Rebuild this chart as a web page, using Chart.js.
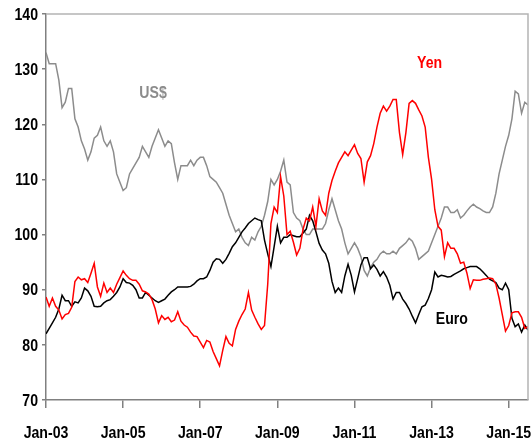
<!DOCTYPE html>
<html>
<head>
<meta charset="utf-8">
<style>
  html, body { margin: 0; padding: 0; background: #fff; }
  #wrap { width: 531px; height: 444px; position: relative; }
</style>
<script src="https://cdn.jsdelivr.net/npm/chart.js@4"></script>
</head>
<body>
<div id="wrap"><canvas id="fxChart" width="531" height="444"></canvas></div>
<script>
// monthly readings, Jan-03 .. Jul-15
const tickLabels = ['Jan-03', 'Jan-05', 'Jan-07', 'Jan-09', 'Jan-11', 'Jan-13', 'Jan-15'];

const usd = [
  133, 131, 131, 131, 128, 123, 124, 126.5, 126.5, 121,
  119.5, 117, 115.5, 113.5, 115, 117.5, 118, 119.5, 117, 116,
  117, 115, 111, 109.5, 108, 108.5, 111, 112, 113, 114,
  116, 115, 114, 116, 117.5, 119, 117.5, 116, 117, 116.5,
  113, 110, 112.5, 112.5, 112.5, 113.5, 112.5, 113.5, 114, 114,
  112.5, 110.5, 110, 109.5, 108.5, 107.5, 105.5, 103.5, 102, 100.5,
  101, 99.5, 98.5, 98, 99.5, 99, 100.5, 101.5, 103.5, 106,
  110, 109, 110, 111.5, 113.5, 109.5, 109, 104, 103, 102.5,
  101, 100, 100, 101, 101, 101, 101, 102, 104.5, 106.5,
  104.5, 102.5, 101, 98.5, 96.5, 97.5, 98.5, 97.5, 96, 93.5,
  92.5, 94, 95, 95.5, 96.5, 97, 96.5, 96.5, 97, 96.5,
  97.5, 98, 98.5, 99.3, 98.8, 97.5, 95.5, 96, 96.5, 97,
  98.5, 100, 101.5, 103, 105, 105, 104, 104, 104.5, 103,
  103.5, 104.3, 105, 105.5, 105, 104.7, 104.3, 104, 104, 105,
  107.5, 111, 113.5, 116, 118, 121, 126, 125.5, 122, 124,
  123.5
];

const yen = [
  88.7, 87, 88.5, 87, 86.3, 84.7, 85.5, 85.7, 86.8, 91.5,
  92.3, 91.8, 92, 91.3, 93, 94.8, 90.5, 88.8, 91.2, 89.5,
  90.3, 89.5, 91, 92.2, 93.4, 92.6, 92, 91.7, 91.7, 91,
  89.8, 89.6, 89.2, 88.2, 86.5, 84, 85.3, 84.6, 85, 84.2,
  84.5, 86, 84.3, 83.6, 83.2, 82.3, 81.6, 81.5, 80.5, 79.5,
  80.8, 80.5, 78.8, 77.5, 76.2, 79, 81.5, 80.3, 79.8, 82.8,
  84.3, 85.5, 86.5, 89.5, 86.3, 85, 83.8, 82.8, 83.5, 91,
  102, 105, 104, 110.5, 107, 100, 100.6, 98.6, 96.3, 97.5,
  101, 103, 102.5, 105, 101.5, 106.5, 104.3, 103.5, 107.5, 109.8,
  111.5, 113, 114, 115, 114.3, 115.3, 116.3, 114.7, 113.8, 109.5,
  113.2, 114.3, 116.5, 119.5, 122, 123.3, 122.4, 123.3, 124.5, 124.5,
  118.5, 114.5, 118.5, 123.8, 124.3, 123.8, 122.6, 121.5, 119.5, 114,
  110, 104.5, 101.5, 100.8, 96, 98.5, 97.5, 97.5, 96.5, 94.8,
  95, 93, 90.2, 91.8, 91.7, 91.7, 91.9, 92, 92.1, 92,
  91, 88.5, 85.5, 82.5, 83.5, 85.8, 86, 86, 85, 83,
  83.3
];

const euro = [
  82, 83, 84, 85, 86.5, 89, 88, 88, 87, 87.8,
  87.6, 88.5, 90.3, 89.8, 88.8, 87, 86.9, 87, 87.6, 88,
  88.2, 88.8, 89.5, 90.5, 92, 91.3, 91.2, 90.8, 90, 88.5,
  88.5, 89.5, 89, 88.5, 88, 87.7, 88, 88.3, 89, 89.6,
  90, 90.5, 90.5, 90.5, 90.5, 90.6, 91, 91.6, 92, 92,
  92.3, 93.5, 95, 95.6, 95.5, 94.8, 95.5, 96.6, 97.8, 98.5,
  99.5, 100.5, 101.2, 102, 102.5, 103, 102.7, 102.5, 99, 96.5,
  94.2, 97.8, 101.5, 98.5, 99.5, 99.5, 100, 99.8, 99.6, 99.6,
  100.3, 101, 103.5, 102.5, 100.5, 98.4, 97.2, 96.5, 94.8, 91.5,
  89.5, 90.3, 89.5, 92.5, 94.6, 92.6, 89.6, 92, 94.5, 95.8,
  95.8, 93.8, 94.5, 93.7, 92.5, 93.3, 92.3, 90.8, 88.3, 89.5,
  89.5, 88.3, 87.5, 86.5, 85.2, 84, 85.5, 86.9, 87.2, 88.4,
  90, 93.2, 92.3, 92.6, 92.5, 92.3, 92.4, 92.8, 93.1, 93.4,
  93.8, 94, 94.2, 94.2, 94.2, 93.8, 93.2, 92.6, 91.9, 91.6,
  91.3, 90.3, 90, 91.2, 90, 84.8, 83.3, 83.8, 82.3, 83.6,
  82.7
];

const toPoints = arr => arr.map((v, i) => ({ x: i, y: v }));

// the original uses a condensed bold face; squeeze Liberation Sans Bold to match
const FONT = 'bold 17px "Liberation Sans", Arial, sans-serif';
const SQUEEZE = 0.83;

// series names written inside the plot, anchored in data units
const seriesLabels = [
  { text: 'US$', x: 33.3, y: 125.7, color: '#8c8c8c' },
  { text: 'Yen', x: 119.4, y: 131.1, color: '#ff0000' },
  { text: 'Euro', x: 126.3, y: 84.7, color: '#000000' }
];

function narrowText(ctx, text, x, y, align) {
  ctx.save();
  ctx.translate(x, y);
  ctx.scale(SQUEEZE, 1);
  ctx.textAlign = align;
  ctx.fillText(text, 0, 0);
  ctx.restore();
}

const framePlugin = {
  id: 'frame',
  afterDraw(chart) {
    const { ctx, chartArea: a, scales } = chart;
    ctx.save();
    ctx.strokeStyle = '#b4b4b4';
    ctx.lineWidth = 1.5;
    ctx.beginPath();
    ctx.moveTo(a.left, a.top);
    ctx.lineTo(a.right, a.top);
    ctx.lineTo(a.right, a.bottom);
    ctx.stroke();

    ctx.font = FONT;
    ctx.textBaseline = 'middle';
    ctx.fillStyle = '#000';
    scales.y.ticks.forEach(t => {
      narrowText(ctx, String(t.value), a.left - 8, scales.y.getPixelForValue(t.value) + 1, 'right');
    });
    scales.x.ticks.forEach((t, i) => {
      narrowText(ctx, tickLabels[i], scales.x.getPixelForValue(t.value), a.bottom + 33, 'center');
    });
    seriesLabels.forEach(l => {
      ctx.fillStyle = l.color;
      narrowText(ctx, l.text, scales.x.getPixelForValue(l.x), scales.y.getPixelForValue(l.y), 'center');
    });
    ctx.restore();
  }
};

new Chart(document.getElementById('fxChart'), {
  type: 'line',
  data: {
    datasets: [
      { label: 'Yen', data: toPoints(yen), borderColor: '#ff0000', order: 1 },
      { label: 'Euro', data: toPoints(euro), borderColor: '#000000', order: 2 },
      { label: 'US$', data: toPoints(usd), borderColor: '#8c8c8c', order: 3 }
    ]
  },
  options: {
    responsive: false,
    animation: false,
    layout: { padding: { top: 14, right: 3, left: 0, bottom: 0 } },
    elements: {
      line: { borderWidth: 1.5, tension: 0 },
      point: { radius: 0 }
    },
    plugins: { legend: { display: false }, tooltip: { enabled: false } },
    scales: {
      x: {
        type: 'linear',
        min: 0,
        max: 150,
        afterBuildTicks: s => { s.ticks = tickLabels.map((_, i) => ({ value: i * 24 })); },
        afterFit: s => { s.height = 44; },
        ticks: { display: false },
        grid: { drawOnChartArea: false, drawTicks: true, tickLength: 8, color: '#808080', lineWidth: 1.5 },
        border: { color: '#808080', width: 1.5 }
      },
      y: {
        min: 70,
        max: 140,
        afterFit: s => { s.width = 46; },
        ticks: { display: false, stepSize: 10 },
        grid: { drawOnChartArea: false, drawTicks: true, tickLength: 4, color: '#808080', lineWidth: 1.5 },
        border: { color: '#808080', width: 1.5 }
      }
    }
  },
  plugins: [framePlugin]
});
</script>
</body>
</html>
